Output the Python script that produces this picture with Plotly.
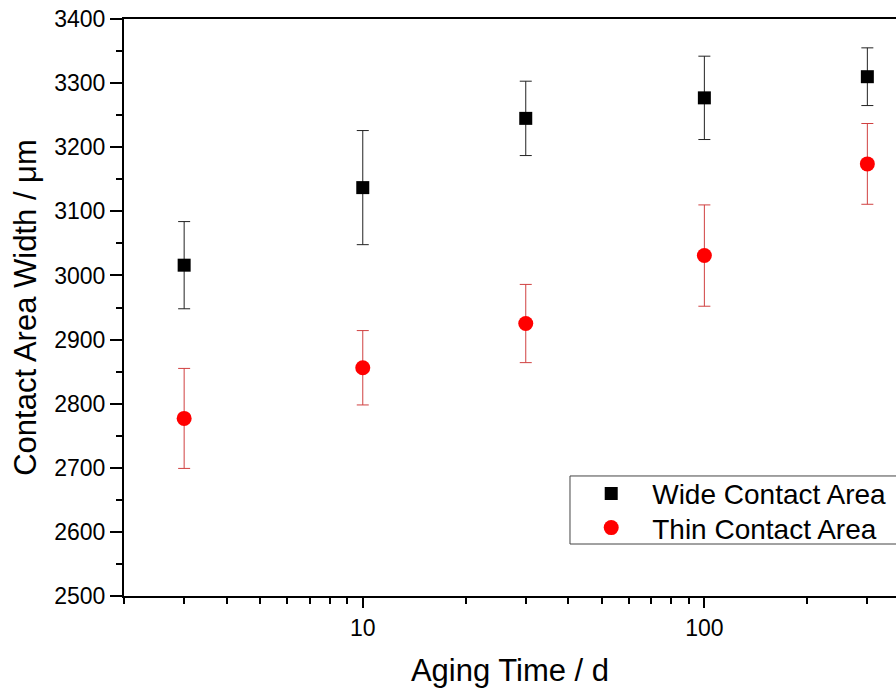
import plotly.graph_objects as go

aging_days = [3, 10, 30, 100, 300]
wide_width = [3016, 3137, 3245, 3277, 3310]
wide_err = [68, 89, 58, 65, 45]
thin_width = [2777, 2856, 2925, 3031, 3174]
thin_err = [78, 58, 61, 79, 63]

x_major = [10, 100]
x_minor = [2, 3, 4, 5, 6, 7, 8, 9, 20, 30, 40, 50, 60, 70, 80, 90, 200, 300, 400]

FONT = "Arial, Liberation Sans, sans-serif"

fig = go.Figure()
fig.add_trace(go.Scatter(
    x=aging_days, y=wide_width, mode="markers", name="Wide Contact Area",
    marker=dict(symbol="square", size=13, color="black"),
    error_y=dict(type="data", array=wide_err, color="#222222", thickness=1, width=6),
    legend="legend",
))
fig.add_trace(go.Scatter(
    x=aging_days, y=thin_width, mode="markers", name="Thin Contact Area",
    marker=dict(symbol="circle", size=15, color="#ff0000"),
    error_y=dict(type="data", array=thin_err, color="#d04040", thickness=1, width=6),
    legend="legend2",
))

leg_common = dict(
    xanchor="left", yanchor="middle", bgcolor="rgba(0,0,0,0)", borderwidth=0,
    font=dict(size=28, family=FONT), itemwidth=72,
)

fig.update_layout(
    width=896, height=689,
    margin=dict(l=124, r=0, t=19, b=93, autoexpand=False),
    plot_bgcolor="white", paper_bgcolor="white",
    font=dict(family=FONT, color="black", size=23),
    showlegend=True,
    legend=dict(x=0.578, y=0.177, **leg_common),
    legend2=dict(x=0.578, y=0.118, **leg_common),
    shapes=[dict(
        type="rect", xref="paper", yref="paper",
        x0=0.5777, x1=1.05, y0=0.0901, y1=0.208,
        line=dict(color="#444", width=1), fillcolor="white", layer="below",
    )],
)
fig.update_xaxes(
    type="log", range=[0.30103, 2.561],
    tickmode="array", tickvals=x_major, ticktext=[str(v) for v in x_major],
    ticks="outside", ticklen=10, tickwidth=2, tickcolor="black",
    minor=dict(tickmode="array", tickvals=x_minor, ticks="outside", ticklen=6, tickwidth=2, tickcolor="black", showgrid=False),
    showline=True, linecolor="black", linewidth=2, mirror=True,
    showgrid=False, zeroline=False,
    tickfont=dict(size=23),
    title=dict(text="Aging Time / d", font=dict(size=31), standoff=20),
)
fig.update_yaxes(
    range=[2500, 3400], dtick=100, tick0=2500,
    ticks="outside", ticklen=12, tickwidth=2, tickcolor="black",
    minor=dict(dtick=50, ticks="outside", ticklen=6, tickwidth=2, tickcolor="black", showgrid=False),
    showline=True, linecolor="black", linewidth=2, mirror=False,
    showgrid=False, zeroline=False, ticklabeloverflow="allow",
    tickfont=dict(size=23),
    title=dict(text="Contact Area Width / μm", font=dict(size=31), standoff=8),
)

fig.write_html(
    "out.html",
    config={"displayModeBar": False},
    post_script="document.body.style.margin='0px'; document.body.style.overflow='hidden';",
)
